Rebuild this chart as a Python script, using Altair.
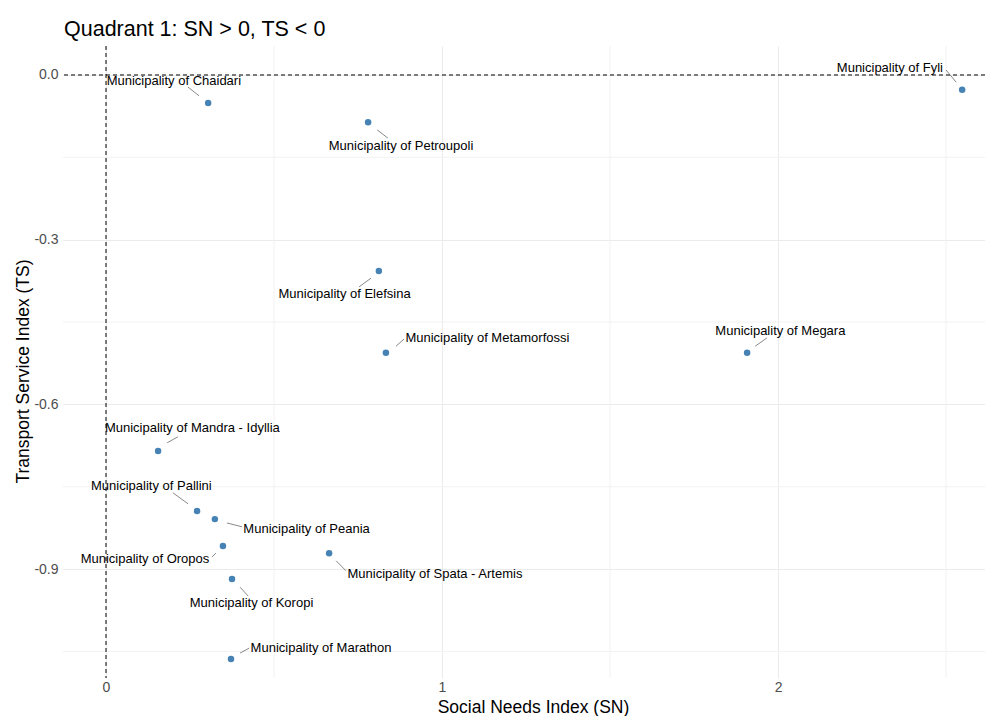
import altair as alt
import pandas as pd

# ---- data ----
names = [
    "Municipality of Chaidari", "Municipality of Petroupoli", "Municipality of Fyli",
    "Municipality of Elefsina", "Municipality of Metamorfossi", "Municipality of Megara",
    "Municipality of Mandra - Idyllia", "Municipality of Pallini", "Municipality of Peania",
    "Municipality of Oropos", "Municipality of Spata - Artemis", "Municipality of Koropi",
    "Municipality of Marathon",
]
sn = [0.304, 0.780, 2.548, 0.812, 0.833, 1.908, 0.155, 0.271, 0.324, 0.348, 0.664, 0.375, 0.372]
ts = [-0.051, -0.086, -0.027, -0.357, -0.506, -0.506, -0.685, -0.794, -0.809, -0.858, -0.871, -0.918, -1.064]

# repelled label positions (data units)
label_x = [0.202, 0.878, 2.333, 0.710, 1.135, 2.007, 0.257, 0.135, 0.597, 0.116, 0.979, 0.433, 0.640]
label_y = [-0.011, -0.129, 0.013, -0.399, -0.479, -0.466, -0.643, -0.749, -0.827, -0.882, -0.909, -0.962, -1.044]

# leader segments (data units)
seg_x1 = [0.277, 0.807, 2.530, 0.789, 0.863, 1.932, 0.182, 0.244, 0.360, 0.327, 0.685, 0.399, 0.399]
seg_y1 = [-0.038, -0.100, -0.013, -0.370, -0.494, -0.494, -0.670, -0.781, -0.816, -0.871, -0.885, -0.933, -1.053]
seg_x2 = [0.244, 0.839, 2.500, 0.753, 0.887, 1.967, 0.214, 0.199, 0.405, 0.315, 0.714, 0.423, 0.426]
seg_y2 = [-0.022, -0.115, 0.009, -0.386, -0.481, -0.479, -0.659, -0.761, -0.823, -0.878, -0.903, -0.949, -1.044]

x_major = [0, 1, 2]
x_minor = [0.5, 1.5, 2.5]
y_major = [0.0, -0.3, -0.6, -0.9]
y_minor = [-0.15, -0.45, -0.75, -1.05]
ref_x = [0.0]
ref_y = [0.0]

x_domain = [-0.128, 2.616]
y_domain = [-1.0984, 0.0528]

FONT = "Liberation Sans"

df = pd.DataFrame({
    "name": names, "sn": sn, "ts": ts,
    "lx": label_x, "ly": label_y,
    "sx1": seg_x1, "sy1": seg_y1, "sx2": seg_x2, "sy2": seg_y2,
})

xs = alt.Scale(domain=x_domain, nice=False, zero=False)
ys = alt.Scale(domain=y_domain, nice=False, zero=False)

x_axis = alt.Axis(
    values=x_major, format="d", title="Social Needs Index (SN)",
    labelFont=FONT, labelFontSize=14, labelColor="#4d4d4d", labelPadding=2,
    labelFlush=False, labelOverlap=False,
    ticks=False, domain=False, grid=True, gridColor="#ebebeb", gridWidth=1,
    titleFont=FONT, titleFontSize=17.5, titleFontWeight="normal", titleColor="black",
    titleX=470, titleY=34, titleAlign="center", titleBaseline="alphabetic",
)
y_axis = alt.Axis(
    values=y_major, title="Transport Service Index (TS)",
    labelExpr="replace(format(datum.value, '.1f'), '\u2212', '-')",
    labelFont=FONT, labelFontSize=14, labelColor="#4d4d4d", labelPadding=5,
    labelFlush=False, labelOverlap=False,
    ticks=False, domain=False, grid=True, gridColor="#ebebeb", gridWidth=1,
    titleFont=FONT, titleFontSize=17.5, titleFontWeight="normal", titleColor="black",
    titleX=-40, titleY=325, titleAngle=270, titleAlign="center", titleBaseline="middle",
)


def X(field):
    return alt.X(field, type="quantitative", scale=xs, axis=x_axis)


def Y(field):
    return alt.Y(field, type="quantitative", scale=ys, axis=y_axis)


minor_x = alt.Chart(pd.DataFrame({"v": x_minor})).mark_rule(
    color="#f2f2f2", strokeWidth=1
).encode(x=X("v"))

minor_y = alt.Chart(pd.DataFrame({"v": y_minor})).mark_rule(
    color="#f2f2f2", strokeWidth=1
).encode(y=Y("v"))

vline = alt.Chart(pd.DataFrame({"v": ref_x})).mark_rule(
    color="black", strokeWidth=1, strokeDash=[4, 3]
).encode(x=X("v"))

hline = alt.Chart(pd.DataFrame({"v": ref_y})).mark_rule(
    color="black", strokeWidth=1, strokeDash=[4, 3]
).encode(y=Y("v"))

segments = alt.Chart(df).mark_rule(color="#555555", strokeWidth=0.7).encode(
    x=X("sx1"), y=Y("sy1"), x2="sx2", y2="sy2"
)

points = alt.Chart(df).mark_circle(color="#4682B4", opacity=1, size=42).encode(
    x=X("sn"), y=Y("ts")
)

labels = alt.Chart(df).mark_text(
    font=FONT, fontSize=13, color="black", align="center", baseline="middle"
).encode(x=X("lx"), y=Y("ly"), text="name:N")

chart = alt.layer(minor_x, minor_y, vline, hline, points, segments, labels).properties(
    width=922,
    height=632,
    background="white",
    autosize=alt.AutoSizeParams(type="none"),
    padding={"left": 55, "top": 38, "right": 0, "bottom": 38},
    title=alt.Title(
        "Quadrant 1: SN > 0, TS < 0", anchor="start", frame="group",
        font=FONT, fontSize=21.5, fontWeight="normal", color="black",
        baseline="bottom", offset=5, dx=1, dy=22,
    ),
).configure_view(strokeWidth=0, stroke="transparent")

chart.save("out.html", embed_options={"renderer": "svg", "actions": False})
